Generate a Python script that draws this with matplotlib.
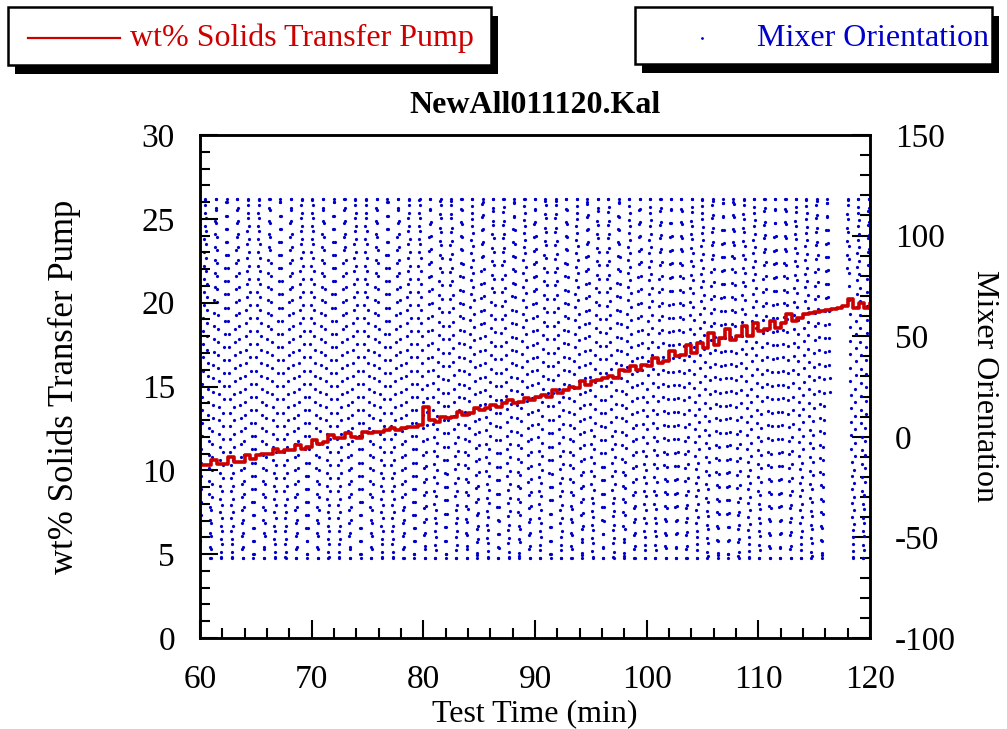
import numpy as np
import matplotlib
matplotlib.use('Agg')
import matplotlib.pyplot as plt
from matplotlib.patches import Rectangle
from matplotlib.transforms import IdentityTransform
from matplotlib.ticker import MultipleLocator

plt.rcParams['font.family'] = ['Liberation Serif', 'DejaVu Serif']
plt.rcParams['axes.unicode_minus'] = False

# wt% solids at the transfer pump, logged every half minute
wt_time = np.arange(60.0, 120.01, 0.5)
wt_solids = [
    10.3, 10.3, 10.6, 10.4, 10.4, 10.8, 10.5, 10.5, 10.9, 10.7,
    10.9, 11.0, 11.0, 11.3, 11.1, 11.2, 11.2, 11.5, 11.3, 11.4,
    11.8, 11.6, 11.7, 12.1, 11.9, 11.9, 12.2, 12.0, 11.9, 12.3,
    12.2, 12.3, 12.3, 12.4, 12.5, 12.4, 12.5, 12.6, 12.6, 12.7,
    13.8, 13.0, 12.9, 13.2, 13.1, 13.2, 13.5, 13.3, 13.4, 13.7,
    13.6, 13.7, 13.9, 13.8, 14.0, 14.2, 14.0, 14.1, 14.3, 14.2,
    14.4, 14.5, 14.4, 14.8, 14.6, 14.8, 15.0, 14.9, 15.3, 15.1,
    15.3, 15.4, 15.5, 15.6, 15.5, 16.0, 15.9, 16.2, 16.0, 16.3,
    16.2, 16.7, 16.4, 16.5, 17.1, 16.8, 16.9, 17.5, 17.0, 17.6,
    17.3, 18.2, 17.5, 17.9, 18.4, 17.8, 18.0, 18.6, 18.0, 18.8,
    18.3, 18.4, 18.9, 18.5, 18.8, 19.3, 18.9, 19.1, 19.3, 19.4,
    19.45, 19.5, 19.55, 19.6, 19.7, 19.8, 20.2, 19.7, 20.0, 19.7,
    19.9,
]

# mixer sweep: back and forth between its end stops, logged once a second;
# the sweep period drifts a little during the run
mixer_low = -60.0
mixer_high = 118.0
mixer_overshoot = 5.0
mixer_sample_s = 1.0
period_start = [60.0, 80.0, 100.0]
period_s = [57.6, 56.3, 55.9]
mixer_gap = (116.4, 117.9)

mix_t = np.arange(60.0, 120.0, mixer_sample_s / 60.0)
seg = np.searchsorted(period_start, mix_t, side='right') - 1
step = mixer_sample_s / np.array(period_s)[seg]
phase = np.cumsum(step) % 1.0
span = mixer_high - mixer_low + 2 * mixer_overshoot
mix_angle = mixer_low - mixer_overshoot + span * (1 - np.abs(2 * phase - 1))
mix_angle = np.clip(mix_angle, mixer_low, mixer_high)
keep = (mix_t < mixer_gap[0]) | (mix_t > mixer_gap[1])
mix_t, mix_angle = mix_t[keep], mix_angle[keep]

fig = plt.figure(figsize=(10.07, 7.29), dpi=100)
ax = fig.add_axes([200 / 1007, 1 - 638 / 729, 670 / 1007, 503 / 729])
ax2 = ax.twinx()

ax2.plot(mix_t, mix_angle, ls='none', marker='o', ms=2.3, mec='none', color='#0000CC')
ax.plot(wt_time, wt_solids, color='#CC0000', lw=2.6, drawstyle='steps-post')
ax.set_zorder(ax2.get_zorder() + 1)
ax.patch.set_visible(False)

ax.set_xlim(60, 120)
ax.set_ylim(0, 30)
ax2.set_ylim(-100, 150)
ax.xaxis.set_major_locator(MultipleLocator(10))
ax.xaxis.set_minor_locator(MultipleLocator(2))
ax.yaxis.set_major_locator(MultipleLocator(5))
ax.yaxis.set_minor_locator(MultipleLocator(1))
ax2.yaxis.set_major_locator(MultipleLocator(50))
ax2.yaxis.set_minor_locator(MultipleLocator(10))

for a in (ax, ax2):
    a.tick_params(which='major', direction='in', length=13, width=1.5, labelsize=24, pad=18)
    a.tick_params(which='minor', direction='in', length=7, width=1.5)
    for s in a.spines.values():
        s.set_linewidth(1.8)
ax.tick_params(axis='x', pad=19)

ax.set_xlabel('Test Time (min)', fontsize=23, labelpad=3)
ax.set_ylabel('wt% Solids Transfer Pump', fontsize=25, labelpad=44)
ax2.set_ylabel('Mixer Orientation', fontsize=23, rotation=270, labelpad=31)
ax.set_title('NewAll011120.Kal', fontsize=23, fontweight='bold', pad=16)

# legend boxes with drop shadows along the top
def legend_box(x0, x1, y0, y1):
    h = 729
    fig.add_artist(Rectangle((x0 + 7, h - y1 - 9), x1 - x0, y1 - y0,
                             transform=IdentityTransform(), fc='black', ec='none'))
    fig.add_artist(Rectangle((x0, h - y1), x1 - x0, y1 - y0,
                             transform=IdentityTransform(), fc='white', ec='black', lw=1.8))

legend_box(8, 491, 7, 65)
legend_box(635, 992, 7, 64)
fig.add_artist(plt.Line2D([28 / 1007, 120 / 1007], [1 - 38 / 729] * 2, color='#CC0000', lw=1.6))
fig.text(130 / 1007, 1 - 38 / 729, 'wt% Solids Transfer Pump', color='#CC0000',
         fontsize=23, va='center', ha='left')
fig.add_artist(plt.Line2D([702 / 1007], [1 - 38 / 729], ls='none', marker='o', ms=2,
                          mec='none', color='#0000CC'))
fig.text(757 / 1007, 1 - 38 / 729, 'Mixer Orientation', color='#0000CC',
         fontsize=23, va='center', ha='left')

fig.savefig('out.png', dpi=100)
